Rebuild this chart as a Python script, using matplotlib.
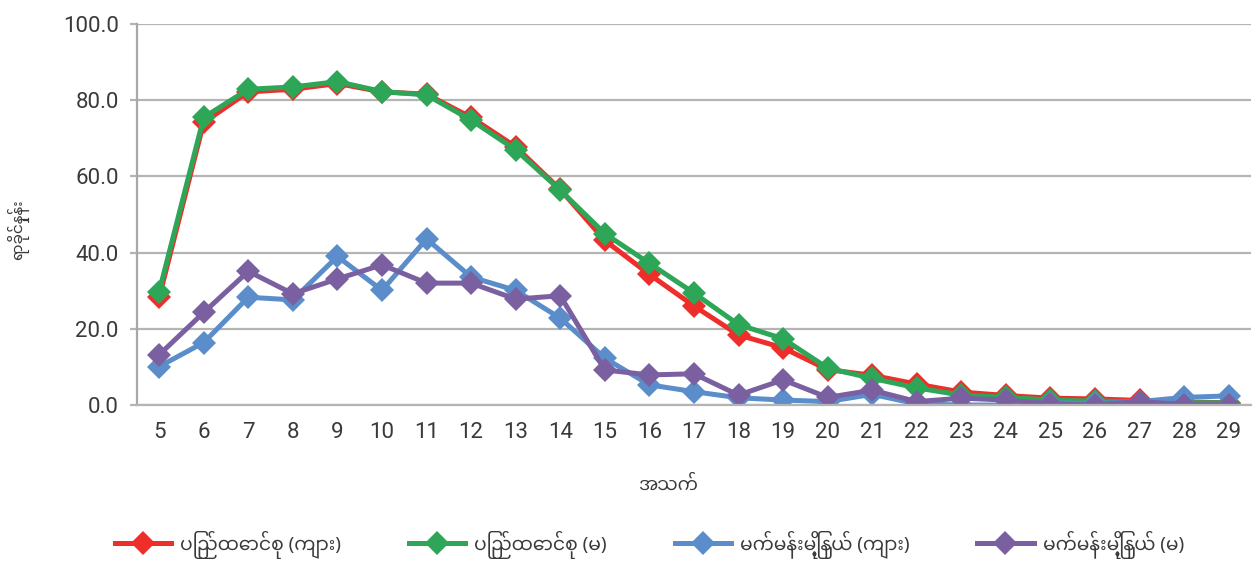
import numpy as np
import matplotlib.pyplot as plt

# age groups on the x axis
AGES = list(range(5, 30))

# percentages
LIT_MALE = [28.3, 74.2, 82.2, 82.9, 84.4, 82.2, 81.6, 75.5, 67.8, 56.6,
            43.2, 34.3, 26.0, 18.4, 15.0, 9.3, 7.8, 5.5, 3.4, 2.5,
            1.8, 1.6, 1.2, 0.8, 0.6]
LIT_FEMALE = [29.8, 75.5, 82.9, 83.5, 84.9, 82.3, 81.4, 74.8, 67.0, 56.4,
              45.0, 37.2, 29.4, 21.1, 17.4, 9.7, 7.0, 4.5, 2.6, 2.0,
              1.3, 1.0, 0.9, 0.6, 0.6]
ILLIT_MALE = [10.1, 16.4, 28.3, 27.6, 39.0, 30.1, 43.6, 33.6, 30.1, 22.8,
              12.3, 5.3, 3.5, 1.9, 1.3, 0.9, 2.8, 0.3, 0.0, 0.0,
              0.6, 0.4, 0.9, 2.0, 2.4]
ILLIT_FEMALE = [13.2, 24.3, 35.1, 29.2, 33.1, 36.8, 32.0, 32.0, 27.8, 28.7,
                9.2, 7.9, 8.2, 2.6, 6.6, 2.0, 3.9, 0.9, 1.8, 1.3,
                0.3, 0.1, 0.9, 0.1, 0.1]

SERIES_NAMES = ["ပြည်ထောင်စု (ကျား)", "ပြည်ထောင်စု (မ)",
                "မက်မန်းမြို့နယ် (ကျား)", "မက်မန်းမြို့နယ် (မ)"]
COLORS = ["#EE2E2A", "#2DA657", "#5B8DCA", "#7B60A1"]

XLABEL = "အသက်"
YLABEL = "ရာခိုင်နှုန်း"

plt.rcParams['font.family'] = ['Roboto', 'Noto Sans Myanmar', 'DejaVu Sans']
TXT = '#3A3A3A'

fig = plt.figure(figsize=(12.56, 5.63), dpi=100)
ax = fig.add_axes([0.109, 0.2806, 0.887, 0.6766])

for vals, name, col in zip([LIT_MALE, LIT_FEMALE, ILLIT_MALE, ILLIT_FEMALE],
                           SERIES_NAMES, COLORS):
    ax.plot(AGES, vals, color=col, lw=3.6, marker='D', markersize=12.5,
            markeredgewidth=0, label=name, solid_joinstyle='miter')

ax.set_xlim(4.5, 29.5)
ax.set_ylim(0, 100)
ax.set_xticks(AGES)
ax.set_yticks(np.arange(0, 101, 20))
ax.set_yticklabels([f"{v:.1f}" for v in np.arange(0, 101, 20)])

ax.grid(axis='y', color='#B4B4B4', lw=1.6)
ax.set_axisbelow(True)
for s in ['top', 'right']:
    ax.spines[s].set_visible(False)
ax.spines['left'].set_color('#A8A8A8')
ax.spines['left'].set_linewidth(1.6)
ax.spines['bottom'].set_color('#B4B4B4')
ax.spines['bottom'].set_linewidth(1.6)

ax.tick_params(axis='x', length=0, pad=12, labelsize=16, labelcolor=TXT)
ax.tick_params(axis='y', length=5, width=1.6, color='#B4B4B4', pad=8,
               labelsize=16, labelcolor=TXT)

# axis titles placed directly
fig.text(668 / 1256, 1 - 485 / 563, XLABEL, fontsize=13, color=TXT,
         ha='center', va='center', family=['Noto Sans Myanmar', 'DejaVu Sans'])
fig.text(18 / 1256, 1 - 230 / 563, YLABEL, fontsize=11, color=TXT,
         ha='center', va='center', rotation=90,
         family=['Noto Sans Myanmar', 'DejaVu Sans'])

ax.legend(loc='center', bbox_to_anchor=(0.46, -0.367), ncol=4,
          frameon=False, handlelength=3.0, handletextpad=0.5,
          columnspacing=3.6, labelcolor=TXT,
          prop={'family': ['Noto Sans Myanmar', 'DejaVu Sans'], 'size': 13.5})

fig.savefig("out.png", dpi=100)
